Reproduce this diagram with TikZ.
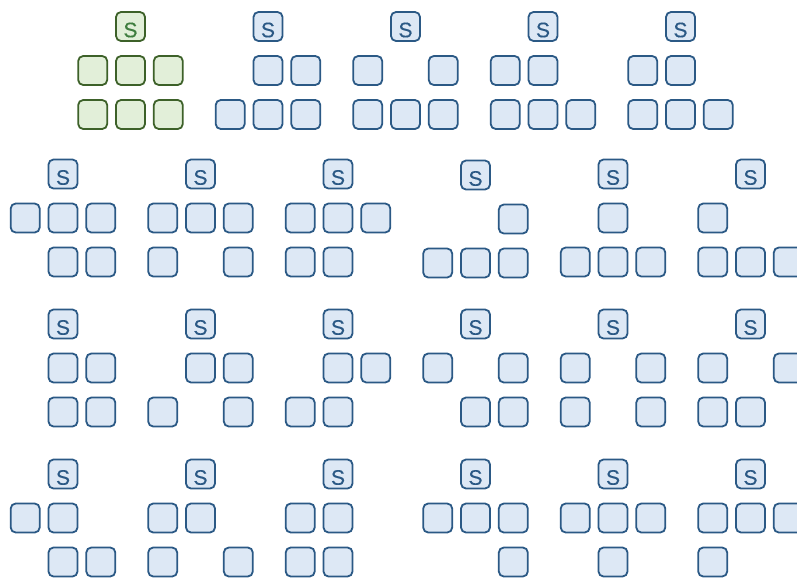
\documentclass[tikz,border=0pt]{standalone}
\usepackage{fontspec}
\setmainfont{Liberation Sans}
\newfontfamily\cellfont{Liberation Sans}[FakeBold=0.3]
\newcommand{\start}{{\cellfont\fontsize{21}{21}\selectfont S}}

\definecolor{cellfill}{HTML}{DDE8F5}
\definecolor{celldraw}{HTML}{2B5985}
\definecolor{startfill}{HTML}{E2EFD9}
\definecolor{startdraw}{HTML}{3D6129}
\definecolor{starttext}{HTML}{3E7D3E}

% one layout: name, x, y, style, cells of row a, cells of row b
\newcommand{\layout}[6]{%
    \node[#4] (#1s) at (#2, #3) {\start};
    \foreach \j in {#5}
        \node[#4] (#1a\j) at ({#2+(\j-2)*37.8}, {#3+44}) {};
    \foreach \j in {#6}
        \node[#4] (#1b\j) at ({#2+(\j-2)*37.8}, {#3+88}) {};
}

\begin{document}
\begin{tikzpicture}[x=1pt, y=-1pt,
    cell/.style={draw=celldraw, fill=cellfill, text=celldraw,
                 rounded corners=5pt, line width=1.8pt,
                 minimum size=29pt, inner sep=0pt,
                 text height=21.5pt, text depth=0pt},
    first/.style={cell, draw=startdraw, fill=startfill, text=starttext}]

    \useasboundingbox (0, 0) rectangle (797, 579);

    % first row
    \layout{p11}{130.5}{26.5}{first}{1,2,3}{1,2,3}
    \layout{p12}{268}{26.5}{cell}{2,3}{1,2,3}
    \layout{p13}{405.5}{26.5}{cell}{1,3}{1,2,3}
    \layout{p14}{543}{26.5}{cell}{1,2}{1,2,3}
    \layout{p15}{680.5}{26.5}{cell}{1,2}{1,2,3}

    % second row
    \layout{p21}{63}{174}{cell}{1,2,3}{2,3}
    \layout{p22}{200.5}{174}{cell}{1,2,3}{1,3}
    \layout{p23}{338}{174}{cell}{1,2,3}{1,2}
    \layout{p24}{475.5}{175}{cell}{3}{1,2,3}
    \layout{p25}{613}{174}{cell}{2}{1,2,3}
    \layout{p26}{750.5}{174}{cell}{1}{1,2,3}

    % third row
    \layout{p31}{63}{324}{cell}{2,3}{2,3}
    \layout{p32}{200.5}{324}{cell}{2,3}{1,3}
    \layout{p33}{338}{324}{cell}{2,3}{1,2}
    \layout{p34}{475.5}{324}{cell}{1,3}{2,3}
    \layout{p35}{613}{324}{cell}{1,3}{1,3}
    \layout{p36}{750.5}{324}{cell}{1,3}{1,2}

    % fourth row
    \layout{p41}{63}{474}{cell}{1,2}{2,3}
    \layout{p42}{200.5}{474}{cell}{1,2}{1,3}
    \layout{p43}{338}{474}{cell}{1,2}{1,2}
    \layout{p44}{475.5}{474}{cell}{1,2,3}{3}
    \layout{p45}{613}{474}{cell}{1,2,3}{2}
    \layout{p46}{750.5}{474}{cell}{1,2,3}{1}

\end{tikzpicture}
\end{document}
